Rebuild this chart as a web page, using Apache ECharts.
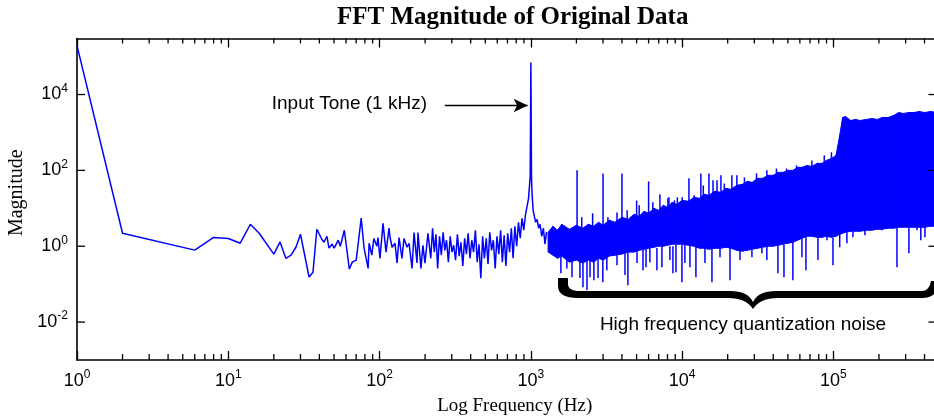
<!DOCTYPE html>
<html><head><meta charset="utf-8">
<script src="https://cdn.jsdelivr.net/npm/echarts@6/dist/echarts.min.js"></script>
<style>html,body{margin:0;padding:0;background:#fff}#c{width:934px;height:419px}</style>
</head><body><div id="c"></div>
<script>
// ---- Data ----
// Low-frequency part of the spectrum (single trace), Hz
const lineFreq = [
  1, 2, 6, 8, 10, 12, 14, 16, 20, 22,
  24, 26, 28, 30, 34.2, 36.3, 38.5, 41.5, 42.9, 44.9,
  46.3, 48.5, 50.1, 53.3, 55, 58.5, 63.1, 66, 68, 70.1,
  75.6, 79, 84, 85.3, 88.9, 91.6, 96, 97.6, 100.6, 105.4,
  110.3, 115.5, 117.3, 121, 126.5, 130.5, 134.5, 140.6, 145, 151.9,
  156.6, 163.9, 169, 176.7, 179.4, 187.7, 193.5, 199.5, 208.8, 218,
  224, 230, 236, 242, 249, 256, 263, 270, 277, 285,
  293, 301, 309, 318, 327, 336, 345, 355, 365, 375,
  385, 396, 407, 418, 430, 442, 454, 467, 480, 493,
  507, 521, 535, 550, 565, 581, 597, 614, 631, 648,
  666, 684, 703, 723, 743, 763, 784, 806, 828, 851,
  874, 898, 922, 947, 965, 980, 990, 1000, 1010, 1020,
  1035, 1055, 1075, 1100, 1125, 1150, 1180, 1210, 1240, 1270
];
const lineMag = [
  1.95e5, 2.2, 0.79, 1.7, 1.6, 1.2, 3.8, 2.2, 0.62, 1.3,
  0.48, 0.58, 0.94, 2.07, 0.153, 0.207, 2.8, 1.53, 1.27, 1.83,
  0.89, 1.13, 0.89, 1.44, 1.0, 2.64, 0.25, 0.38, 0.38, 0.43,
  5.5, 0.89, 0.26, 1.2, 0.58, 1.6, 1.0, 1.7, 0.48, 4.0,
  0.70, 3.0, 1.7, 0.94, 1.2, 0.36, 1.7, 0.48, 1.6, 0.94,
  1.2, 0.26, 2.3, 0.36, 2.3, 0.26, 1.06, 0.36, 2.2, 0.48,
  2.98, 0.70, 2.07, 0.26, 1.83, 0.58, 2.34, 0.78, 1.44, 0.38,
  1.83, 0.70, 1.06, 0.43, 2.07, 0.55, 1.27, 0.30, 1.62, 0.62,
  2.20, 0.48, 1.44, 0.70, 2.64, 0.38, 1.13, 0.144, 1.83, 0.48,
  1.62, 0.34, 2.34, 0.78, 1.44, 0.26, 1.83, 0.62, 2.64, 0.38,
  1.95, 0.30, 2.20, 0.70, 2.98, 0.48, 3.36, 1.0, 4.28, 1.62,
  5.45, 2.64, 6.95, 12.0, 18.3, 40.3, 69.5, 69500, 61.6, 22,
  8.86, 6.16, 4.28, 5.14, 2.98, 3.79, 1.83, 2.98, 1.13, 2.34
];

// Dense high-frequency noise band: frequency, lower and upper envelope
const bandFreq = [
  1300, 1400, 1500, 1600, 1800, 2000, 2200, 2400, 2600, 2800,
  3000, 3300, 3600, 4000, 4400, 4800, 5200, 5600, 6000, 6500,
  7000, 7500, 8000, 8600, 9200, 10000, 11000, 12000, 13000, 14000,
  15000, 16500, 18000, 19500, 21000, 23000, 25000, 27000, 29000, 31500,
  34000, 37000, 40000, 43000, 46500, 50000, 54000, 58000, 62000, 67000,
  72000, 78000, 84000, 90000, 97000, 104000, 110000, 115000, 120000, 130000,
  140000, 150000, 165000, 180000, 195000, 210000, 230000, 250000, 270000, 290000,
  315000, 340000, 370000, 400000, 440000, 480000
];
const bandHigh = [
  2.34, 3.36, 2.64, 3.79, 2.80, 3.57, 2.98, 3.79, 3.36, 4.28,
  3.57, 4.83, 4.28, 5.80, 5.14, 6.95, 6.16, 8.34, 7.39, 10.0,
  8.86, 12.0, 10.6, 14.4, 12.7, 16.2, 15.3, 19.5, 18.3, 23.4,
  22.0, 28.0, 26.4, 33.6, 31.6, 40.3, 42.8, 51.4, 48.3, 61.6,
  61.6, 73.9, 73.9, 88.5, 88.5, 100, 100, 120, 120, 135,
  127, 153, 153, 183, 207, 248, 834, 2480, 2640, 2070,
  2200, 2070, 2200, 2340, 2200, 2480, 2480, 2800, 3360, 3160,
  3360, 3360, 3570, 3360, 3570, 3360
];
const bandLow = [
  0.70, 0.58, 0.48, 0.55, 0.38, 0.43, 0.36, 0.43, 0.38, 0.48,
  0.43, 0.55, 0.58, 0.62, 0.70, 0.70, 0.78, 0.83, 0.885, 0.94,
  1, 1, 1.06, 1.13, 1.13, 1.13, 1.06, 1, 0.885, 0.885,
  0.83, 0.885, 0.885, 0.94, 0.885, 0.78, 0.74, 0.78, 0.83, 0.885,
  0.94, 1, 1, 1.06, 1.13, 1.2, 1.27, 1.44, 1.62, 1.83,
  1.83, 1.72, 1.72, 1.83, 1.72, 1.83, 2.07, 2.2, 2.34, 2.48,
  2.48, 2.48, 2.64, 2.64, 2.8, 2.8, 2.98, 2.98, 3.16, 3.16,
  3.16, 3.16, 3.16, 3.16, 3.36, 3.36
];

// Individual spikes (dips below the band, harmonics and peaks above it)
const spikeFreq = [
  1580, 1730, 1870, 2110, 2210, 2350, 2460, 2610, 2780, 2990,
  3180, 3710, 4190, 4380, 5030, 5510, 5770, 6120, 6810, 7350,
  8300, 8690, 9100, 9970, 10430, 11260, 12330, 14150, 15740, 17790,
  20710, 24110, 28920, 33660, 36300, 42950, 47100, 53950, 61910, 65800,
  79000, 90700, 99300, 110000, 122700, 134600, 161500, 209300, 263000, 315500,
  356400, 378000, 402500,
  2020, 3000, 4000, 5000, 6000, 7130, 8180, 11090, 13300, 15030,
  16000, 18040, 21310,
  2170, 2560, 3230, 3710, 4330, 5200, 6400, 8050, 8900, 9300,
  10000, 12000, 13800, 17000, 19000, 23000, 25800, 31000, 36300, 42000,
  49000, 57000, 72000, 87000, 97000
];
const spikeLow = [
  0.195, 0.26, 0.153, 0.145, 0.083, 0.07, 0.153, 0.127, 0.145, 0.113,
  0.233, 0.316, 0.173, 0.094, 0.36, 0.233, 0.28, 0.38, 0.233, 0.28,
  0.43, 0.195, 0.207, 0.113, 0.36, 0.28, 0.153, 0.36, 0.113, 0.51,
  0.127, 0.43, 0.51, 0.65, 0.43, 0.195, 0.153, 0.127, 0.51, 0.233,
  0.43, 1.44, 0.316, 0.94, 1.2, 1.72, 1.95, 2.64, 0.28, 0.65,
  2.64, 1.44, 1.72,
  2, 2, 3, 4, 4, 5, 6, 8, 10, 10,
  12, 14, 16,
  2, 2, 2, 3, 3, 4, 5, 6, 6, 7,
  7, 8, 10, 12, 14, 16, 18, 22, 26, 30,
  35, 45, 60, 80, 100
];
const spikeHigh = [
  0.6, 0.6, 0.5, 0.5, 0.5, 0.5, 0.5, 0.5, 0.5, 0.5,
  0.6, 0.6, 0.7, 0.7, 0.8, 0.8, 0.85, 0.9, 0.9, 1,
  1, 1, 1.1, 1.1, 1.1, 1.1, 1, 0.9, 0.9, 0.9,
  0.9, 0.8, 0.8, 0.9, 1, 1.1, 1.1, 1.3, 1.6, 1.8,
  1.7, 1.8, 1.7, 2.1, 2.4, 2.5, 2.8, 3, 3.6, 3.2,
  3.2, 3.2, 3.4,
  100, 83, 83, 16, 51, 23.4, 19.5, 61.6, 83, 83,
  54.6, 73.9, 73.9,
  5.8, 7.4, 5.8, 7.8, 8.9, 12, 14.4, 18.3, 16.2, 19.5,
  19.5, 22, 40, 54.6, 45, 74, 65, 83, 100, 112,
  112, 135, 183, 248, 300
];

// Axis ticks
const xMinorTicks = [2,3,4,5,6,7,8,9, 20,30,40,50,60,70,80,90, 200,300,400,500,600,700,800,900,
  2000,3000,4000,5000,6000,7000,8000,9000, 20000,30000,40000,50000,60000,70000,80000,90000,
  200000,300000,400000];
const yTicks = [0.01, 1, 100, 10000];

// Annotation
const toneArrowFreq = [270, 952];
const toneArrowMag = 5130;

// ---- Chart ----
const X_MIN = 1, X_MAX = 480000, Y_MIN = 0.001, Y_MAX = 300000;
const BLUE = '#0000ff';
const SANS = '"Liberation Sans", Arial, sans-serif';
const SERIF = '"Liberation Serif", "Times New Roman", serif';

const lineData = lineFreq.map((f, i) => [f, lineMag[i]]);
const bandData = [];
for (let i = 0; i < bandFreq.length - 1; i++) {
  bandData.push([bandFreq[i], bandLow[i], bandHigh[i], bandFreq[i + 1], bandLow[i + 1], bandHigh[i + 1]]);
}
const spikeData = spikeFreq.map((f, i) => [f, spikeLow[i], spikeHigh[i]]);

function expLabel(v, evenOnly) {
  const e = Math.log10(v);
  const n = Math.round(e);
  if (Math.abs(e - n) > 1e-6) return '';
  if (evenOnly && n % 2 !== 0) return '';
  return '{b|10}{s|' + n + '}';
}
const richLabel = {
  b: { fontSize: 18, fontFamily: SANS, color: '#000', lineHeight: 24 },
  s: { fontSize: 12, fontFamily: SANS, color: '#000', verticalAlign: 'top', lineHeight: 14 }
};

// brace outline (pixel path built from line and quadratic segments)
function bracePoints() {
  const pts = [];
  let cur = null;
  const L = (x, y) => { cur = [x, y]; pts.push(cur); };
  const Q = (cx, cy, x, y) => {
    const [x0, y0] = cur;
    for (let k = 1; k <= 8; k++) {
      const t = k / 8, u = 1 - t;
      pts.push([u * u * x0 + 2 * u * t * cx + t * t * x, u * u * y0 + 2 * u * t * cy + t * t * y]);
    }
    cur = [x, y];
  };
  L(558, 278); L(568, 278); L(568, 284); Q(568, 291, 580, 291); L(730, 291);
  Q(748, 291, 753, 302); Q(758, 291, 776, 291); L(922, 291); Q(929, 291, 931, 281);
  L(940, 281); Q(938, 298, 922, 298); L(778, 298); Q(760, 298, 753, 309);
  Q(746, 298, 728, 298); L(578, 298); Q(558, 298, 558, 286);
  return pts;
}

const chart = echarts.init(document.getElementById('c'), null, { renderer: 'canvas' });
chart.setOption({
  animation: false,
  backgroundColor: '#fff',
  title: {
    text: 'FFT Magnitude of Original Data',
    left: 337, top: 5, padding: 0,
    textStyle: { fontFamily: SERIF, fontWeight: 'bold', fontSize: 25, color: '#000' }
  },
  grid: { left: 77, top: 38.5, width: 859.5, height: 321.5, containLabel: false, outerBoundsMode: 'none' },
  xAxis: [{
    type: 'log', logBase: 10, min: X_MIN, max: X_MAX, interval: 1,
    name: 'Log Frequency (Hz)', nameLocation: 'middle', nameGap: 37,
    nameTextStyle: { fontFamily: SERIF, fontSize: 19, color: '#000', padding: [0, 0, 0, 16] },
    axisLine: { show: true, lineStyle: { color: '#000', width: 1.6 } },
    axisTick: { show: true, inside: true, length: 9, lineStyle: { color: '#000', width: 1.3 } },
    axisLabel: { margin: 9, formatter: v => expLabel(v, false), rich: richLabel },
    splitLine: { show: false }
  }, {
    type: 'log', logBase: 10, min: X_MIN, max: X_MAX, interval: 1, position: 'top',
    axisLine: { show: true, lineStyle: { color: '#000', width: 1.6 } },
    axisTick: { show: true, inside: true, length: 9, lineStyle: { color: '#000', width: 1.3 } },
    axisLabel: { show: false },
    splitLine: { show: false }
  }],
  yAxis: [{
    type: 'log', logBase: 10, min: Y_MIN, max: Y_MAX, interval: 1,
    name: 'Magnitude', nameLocation: 'middle', nameGap: 47, nameRotate: 90,
    nameTextStyle: { fontFamily: SERIF, fontSize: 20, color: '#000', padding: [0, 0, 0, 13] },
    axisLine: { show: true, lineStyle: { color: '#000', width: 1.6 } },
    axisTick: { show: false },
    axisLabel: { margin: 9, formatter: v => expLabel(v, true), rich: richLabel },
    splitLine: { show: false }
  }, {
    type: 'log', logBase: 10, min: Y_MIN, max: Y_MAX, interval: 1, position: 'right',
    axisLine: { show: true, lineStyle: { color: '#000', width: 1.6 } },
    axisTick: { show: false }, axisLabel: { show: false }, splitLine: { show: false }
  }],
  series: [
    {
      name: 'noise band', type: 'custom', silent: true, z: 2,
      data: bandData,
      encode: { x: [0, 3], y: [1, 2, 4, 5] },
      renderItem: (params, api) => {
        const a = api.coord([api.value(0), api.value(2)]);
        const b = api.coord([api.value(3), api.value(5)]);
        const c = api.coord([api.value(3), api.value(4)]);
        const d = api.coord([api.value(0), api.value(1)]);
        return { type: 'polygon', shape: { points: [a, b, c, d] },
          style: { fill: BLUE, stroke: BLUE, lineWidth: 1 } };
      }
    },
    {
      name: 'spikes', type: 'custom', silent: true, z: 3,
      data: spikeData,
      encode: { x: 0, y: [1, 2] },
      renderItem: (params, api) => {
        const p1 = api.coord([api.value(0), api.value(1)]);
        const p2 = api.coord([api.value(0), api.value(2)]);
        return { type: 'line', shape: { x1: p1[0], y1: p1[1], x2: p2[0], y2: p2[1] },
          style: { stroke: BLUE, lineWidth: 1.5 } };
      }
    },
    {
      name: 'FFT magnitude', type: 'line', z: 4,
      data: lineData, showSymbol: false, symbol: 'none',
      lineStyle: { color: BLUE, width: 1.5 }, itemStyle: { color: BLUE },
      markLine: {
        silent: true, symbol: ['none', 'arrow'], symbolSize: [10, 14],
        label: { show: false },
        lineStyle: { color: '#000', width: 1.3, type: 'solid' },
        data: [[{ coord: [toneArrowFreq[0], toneArrowMag] }, { coord: [toneArrowFreq[1], toneArrowMag] }]]
      }
    },
    {
      name: 'x minor ticks', type: 'custom', silent: true, z: 5, clip: false,
      data: xMinorTicks.map(v => [v, Y_MIN]),
      renderItem: (params, api) => {
        const pb = api.coord([api.value(0), Y_MIN]);
        const pt = api.coord([api.value(0), Y_MAX]);
        return { type: 'group', children: [
          { type: 'line', shape: { x1: pb[0], y1: pb[1], x2: pb[0], y2: pb[1] - 6 }, style: { stroke: '#000', lineWidth: 1.3 } },
          { type: 'line', shape: { x1: pt[0], y1: pt[1], x2: pt[0], y2: pt[1] + 5 }, style: { stroke: '#000', lineWidth: 1.3 } }
        ] };
      }
    },
    {
      name: 'y ticks', type: 'custom', silent: true, z: 5, clip: false,
      data: yTicks.map(v => [X_MIN, v]),
      renderItem: (params, api) => {
        const pl = api.coord([X_MIN, api.value(1)]);
        const pr = api.coord([X_MAX, api.value(1)]);
        return { type: 'group', children: [
          { type: 'line', shape: { x1: pl[0], y1: pl[1], x2: pl[0] + 8, y2: pl[1] }, style: { stroke: '#000', lineWidth: 1.3 } },
          { type: 'line', shape: { x1: pr[0], y1: pr[1], x2: pr[0] - 8, y2: pr[1] }, style: { stroke: '#000', lineWidth: 1.3 } }
        ] };
      }
    }
  ],
  graphic: [
    { type: 'text', x: 427, y: 103.5, z: 10,
      style: { text: 'Input Tone (1 kHz)', font: '19px ' + SANS, fill: '#000', align: 'right', verticalAlign: 'middle' } },
    { type: 'text', x: 743, y: 325, z: 10,
      style: { text: 'High frequency quantization noise', font: '19px ' + SANS, fill: '#000', align: 'center', verticalAlign: 'middle' } },
    { type: 'polygon', z: 10, shape: { points: bracePoints() }, style: { fill: '#000' } }
  ]
});
</script>
</body></html>
